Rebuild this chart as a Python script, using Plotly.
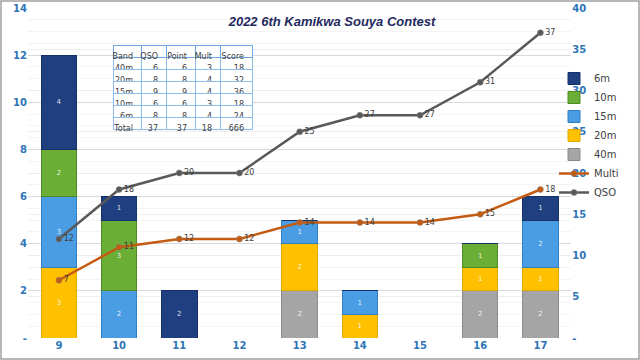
import plotly.graph_objects as go
from plotly.subplots import make_subplots

hours = ["9", "10", "11", "12", "13", "14", "15", "16", "17"]
band_40m = [0, 0, 0, 0, 2, 0, 0, 2, 2]
band_20m = [3, 0, 0, 0, 2, 1, 0, 1, 1]
band_15m = [3, 2, 0, 0, 1, 1, 0, 0, 2]
band_10m = [2, 3, 0, 0, 0, 0, 0, 1, 0]
band_6m = [4, 1, 2, 0, 0, 0, 0, 0, 1]
multi = [7, 11, 12, 12, 14, 14, 14, 15, 18]
qso = [12, 18, 20, 20, 25, 27, 27, 31, 37]

table_header = ["Band", "QSO", "Point", "Mult", "Score"]
table_band = ["40m", "20m", "15m", "10m", "6m", "Total"]
table_qso = [6, 8, 9, 6, 8, 37]
table_point = [6, 8, 9, 6, 8, 37]
table_mult = [3, 4, 4, 3, 4, 18]
table_score = [18, 32, 36, 18, 24, 666]

title = "2022 6th Kamikwa Souya Contest"

W, H = 640, 360
ML, MR, MT, MB = 28, 34, 8, 22
PW, PH = W - ML - MR, H - MT - MB

fig = make_subplots(specs=[[{"secondary_y": True}]])

bars = [
    ("40m", band_40m, "#A5A5A5", "#8A8A8A"),
    ("20m", band_20m, "#FFC000", "#E0A800"),
    ("15m", band_15m, "#4A9DE2", "#2F7FC4"),
    ("10m", band_10m, "#6AAE35", "#4F8A25"),
    ("6m", band_6m, "#1F3F80", "#15306A"),
]
ranks = {"6m": 1, "10m": 2, "15m": 3, "20m": 4, "40m": 5}
for name, vals, col, lcol in bars:
    fig.add_trace(go.Bar(
        x=hours, y=vals, name=name,
        marker=dict(color=col, line=dict(color=lcol, width=1)),
        text=[str(v) if v else "" for v in vals],
        textposition="inside", insidetextanchor="middle",
        textfont=dict(size=7, color="rgba(255,255,255,0.85)", family="DejaVu Sans"),
        legendrank=ranks[name],
    ), secondary_y=False)

for name, vals, col, rank in [("Multi", multi, "#C55A11", 6), ("QSO", qso, "#595959", 7)]:
    fig.add_trace(go.Scatter(
        x=hours, y=vals, name=name, mode="lines+markers+text",
        line=dict(color=col, width=2.5),
        marker=dict(color=col, size=6, line=dict(color="#808080", width=0.5)),
        text=[str(v) for v in vals], textposition="middle right",
        textfont=dict(size=8, color="#404040", family="DejaVu Sans"),
        legendrank=rank,
    ), secondary_y=True)

fig.add_trace(go.Table(
    domain=dict(x=[(113 - ML) / PW, (252 - ML) / PW], y=[(H - MB - 131) / PH, (H - MB - 45) / PH]),
    columnwidth=[28, 25, 29, 25, 32],
    header=dict(values=table_header, height=12, align="right",
                fill_color="white", line=dict(color="#6FA8E0", width=1),
                font=dict(size=8, color="#404040", family="DejaVu Sans")),
    cells=dict(values=[table_band, table_qso, table_point, table_mult, table_score],
               height=12, align="right",
               fill_color="white",
               line=dict(color="#8DBDEB", width=1),
               font=dict(size=8, color="#404040", family="DejaVu Sans")),
))

blue = "#2E75B6"
fig.update_layout(
    width=W, height=H, margin=dict(l=ML, r=MR, t=MT, b=MB, autoexpand=False),
    paper_bgcolor="white", plot_bgcolor="white",
    barmode="stack", bargap=0.41,
    title=dict(text="<b><i>" + title + "</i></b>", x=(332) / W, xanchor="center",
               y=1 - 21 / H, yanchor="middle",
               font=dict(size=13, color="#1F2A60", family="Liberation Sans")),
    legend=dict(x=(554 - ML) / PW, y=(H - MB - 64) / PH, xanchor="left", yanchor="top",
                traceorder="normal",
                bgcolor="rgba(0,0,0,0)", font=dict(size=10, color="#404040", family="DejaVu Sans"),
                itemwidth=30, tracegroupgap=0),
    showlegend=True,
    shapes=[dict(type="rect", xref="paper", yref="paper",
                 x0=(-ML + 1) / PW, x1=(W - ML - 1) / PW,
                 y0=(-MB + 1) / PH, y1=(H - MB - 1) / PH,
                 line=dict(color="#A0A0A0", width=1.5), layer="above")],
)
fig.update_xaxes(showgrid=False, showline=False, ticks="", automargin=False,
                 tickfont=dict(size=10, color=blue, family="DejaVu Sans", weight="bold"))
fig.update_yaxes(range=[0, 14], tickvals=list(range(0, 15, 2)),
                 ticktext=["-"] + [str(v) for v in range(2, 15, 2)],
                 showgrid=True, gridcolor="#D9D9D9", gridwidth=1,
                 minor=dict(dtick=0.5, showgrid=True, gridcolor="#F4F4F4"),
                 zeroline=False, showline=False, automargin=False,
                 tickfont=dict(size=10, color=blue, family="DejaVu Sans", weight="bold"),
                 secondary_y=False)
fig.update_yaxes(range=[0, 40], tickvals=list(range(0, 41, 5)),
                 ticktext=["-"] + [str(v) for v in range(5, 41, 5)],
                 showgrid=True, gridcolor="#EDEDED", zeroline=False, showline=False,
                 automargin=False,
                 tickfont=dict(size=10, color=blue, family="DejaVu Sans", weight="bold"),
                 secondary_y=True)

fig.write_html("out.html", config={"displayModeBar": False},
               post_script="document.body.style.margin='0';")
